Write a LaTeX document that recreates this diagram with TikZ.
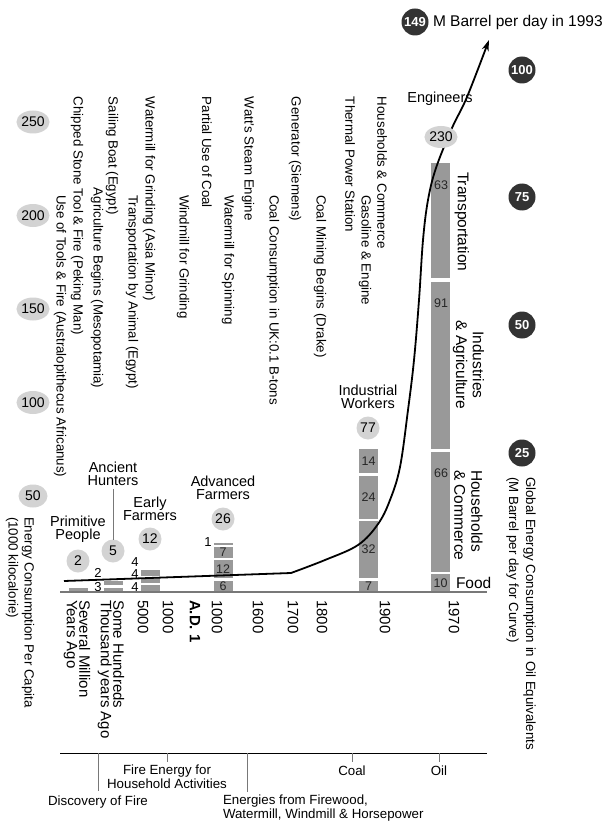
\documentclass[tikz,border=0pt]{standalone}
\usepackage{fontspec}
\setmainfont{Liberation Sans}
\usetikzlibrary{arrows.meta,shapes.geometric}
\newcommand{\fsz}[2]{\fontsize{#1}{#2}\selectfont}
\definecolor{barc}{RGB}{153,153,153}
\definecolor{lgc}{RGB}{211,211,211}
\definecolor{dkc}{RGB}{51,51,51}
\definecolor{axc}{RGB}{120,120,120}
\begin{document}
\begin{tikzpicture}[x=1pt,y=-1pt,
  every node/.style={inner sep=0pt,outer sep=0pt},
  evt/.style={rotate=-90,anchor=west,font=\fsz{13.3}{14}},
  yr/.style={rotate=-90,anchor=west,align=left,font=\fsz{15}{12.5}},
  grp/.style={align=center,font=\fsz{14.5}{13}},
  lcirc/.style={ellipse,fill=lgc,minimum width=23pt,minimum height=23pt,font=\fsz{14}{14}},
  dcirc/.style={circle,fill=dkc,minimum size=27pt,text=white,font=\bfseries\fsz{13}{13}},
  seg/.style={rectangle,fill=barc,minimum width=19pt,font=\fsz{12.5}{12.5},text=black!85},
  sml/.style={font=\fsz{13}{13}},
  bot/.style={font=\fsz{13.3}{13.5}},
  cat/.style={rotate=-90,font=\fsz{15.5}{17}},
  tick/.style={draw=axc,line width=1pt},
  curve/.style={line width=1.8pt,-{Stealth[length=11pt,width=7pt]}}
]
\useasboundingbox (0,0) rectangle (608,821);

% ---------- bars ----------
\node[seg,minimum height=4pt] (b1) at (78.5,590) {};
\node[seg,minimum height=4pt] (b2a) at (113.5,590) {};
\node[seg,minimum height=4pt] (b2b) at (113.5,583) {};
\node[seg,minimum height=7pt] (b3a) at (150.5,588.5) {};
\node[seg,minimum height=5pt] (b3b) at (150.5,580.5) {};
\node[seg,minimum height=6pt] (b3c) at (150.5,573) {};
\node[seg,minimum height=11pt] (b4a) at (223,586.5) {6};
\node[seg,minimum height=18pt] (b4b) at (223,569) {12};
\node[seg,minimum height=11pt] (b4c) at (223,552.5) {7};
\node[seg,minimum height=2.5pt] (b4d) at (223,544) {};
\node[seg,minimum height=11pt] (b5a) at (368.5,586.5) {7};
\node[seg,minimum height=57pt] (b5b) at (368.5,549.5) {32};
\node[seg,minimum height=43pt] (b5c) at (368.5,497.5) {24};
\node[seg,minimum height=24pt] (b5d) at (368.5,461) {14};
\node[seg,minimum height=18pt] (b6a) at (440.5,583) {10};
\node[seg,minimum height=120pt] (b6b) at (440.5,512) {};
\node[seg,minimum height=167pt] (b6c) at (440.5,365.5) {};
\node[seg,minimum height=115pt] (b6d) at (440.5,220.5) {};
\node[font=\fsz{12.5}{12.5},text=black!85] (n66) at (441,473) {66};
\node[font=\fsz{12.5}{12.5},text=black!85] (n91) at (441,303) {91};
\node[font=\fsz{12.5}{12.5},text=black!85] (n63) at (441,185) {63};

% small side numbers
\node[sml] (l3) at (98,587) {3};
\node[sml] (l2) at (98,573) {2};
\node[sml] (l4a) at (135,587) {4};
\node[sml] (l4b) at (135,574) {4};
\node[sml] (l4c) at (135,562) {4};
\node[sml] (l1) at (208,542) {1};

% baseline
\coordinate (bl0) at (60,592);
\coordinate (bl1) at (487,592);
\draw[draw=axc,line width=1.3pt] (bl0) -- (bl1);

% ---------- curve ----------
\draw[curve] (64,581) -- (291,573) -- plot[smooth,tension=0.6] coordinates {(291,573) (325,560) (358,545) (378,524) (390,500) (400,467) (408,410) (414,360) (419,300) (423,240) (428,200) (436,168) (452,128) (467,97) (489,40)};

% ---------- group labels ----------
\node[grp] (pp) at (78,529.5) {Primitive\\People};
\node[lcirc] (c2) at (78,561) {2};
\node[grp] (ah) at (113,473.5) {Ancient\\Hunters};
\node[lcirc] (c5) at (113,551) {5};
\draw[draw=axc,line width=1pt] ([yshift=-4pt]ah.south) -- (c5.north);
\node[grp] (ef) at (150,509) {Early\\Farmers};
\node[lcirc] (c12) at (150,539) {12};
\node[grp] (af) at (223,488) {Advanced\\Farmers};
\node[lcirc] (c26) at (223,519) {26};
\node[grp] (iw) at (368,396.5) {Industrial\\Workers};
\node[lcirc] (c77) at (368,428) {77};
\node[grp] (eng) at (440,99) {Engineers};
\node[lcirc,minimum width=32pt,minimum height=22pt] (c230) at (441,137) {230};

% ---------- left scale ----------
\foreach \v [count=\i from 0] in {250,200,150,100,50}
  \node[lcirc,minimum width=29pt] (s\v) at (33,122+93.5*\i) {\v};
\node[rotate=-90,anchor=west,align=left,font=\fsz{13.3}{16}] (el) at (20,517)
  {Energy Consumption Per Capita\\(1000 kilocalorie)};

% ---------- right scale ----------
\node[dcirc] (r149) at (415,22) {149};
\node[anchor=west,font=\fsz{15.5}{15.5}] (top) at (433,22) {M Barrel per day in 1993};
\node[dcirc] (r100) at (522,70) {100};
\node[dcirc] (r75) at (522,197) {75};
\node[dcirc] (r50) at (522,325) {50};
\node[dcirc] (r25) at (522,453) {25};
\node[rotate=-90,anchor=west,align=left,font=\fsz{13.3}{17}] (gl) at (521,477)
  {Global Energy Consumption in Oil Equivalents\\(M Barrel per day for Curve)};

% ---------- 1970 categories ----------
\node[cat,anchor=west] (tr) at (462,172) {Transportation};
\node[cat,align=center] (ia) at (468.5,365) {Industries\\\& Agriculture};
\node[cat,anchor=west,align=left] (hc) at (468.5,470) {Households\\\& Commerce};
\node[anchor=west,font=\fsz{15.5}{15.5}] (food) at (456,583) {Food};

% ---------- events ----------
\node[evt] (e1) at (77,97) {Chipped Stone Tool \& Fire (Peking Man)};
\node[evt] (e2) at (60,195) {Use of Tools \& Fire (Australopithecus Africanus)};
\node[evt] (e3) at (112,97) {Sailing Boat (Egypt)};
\node[evt] (e4) at (97,188) {Agriculture Begins (Mesopotamia)};
\node[evt] (e5) at (149,97) {Watermill for Grinding (Asia Minor)};
\node[evt] (e6) at (132,195) {Transportation by Animal (Egypt)};
\node[evt] (e7) at (183,195) {Windmill for Grinding};
\node[evt] (e8) at (207,97) {Partial Use of Coal};
\node[evt] (e9) at (228,195) {Watermill for Spinning};
\node[evt] (e10) at (248,97) {Watt's Steam Engine};
\node[evt] (e11) at (273,195) {Coal Consumption in UK:0.1 B-tons};
\node[evt] (e12) at (295,97) {Generator (Siemens)};
\node[evt] (e13) at (320,195) {Coal Mining Begins (Drake)};
\node[evt] (e14) at (350,97) {Thermal Power Station};
\node[evt] (e15) at (365,195) {Gasoline \& Engine};
\node[evt] (e16) at (382,97) {Households \& Commerce};

% ---------- years ----------
\node[yr] (y1) at (77,600) {Several Million\\Years Ago};
\node[yr] (y2) at (111,600) {Some Hundreds\\Thousand years Ago};
\node[yr] (y3) at (143,600) {5000};
\node[yr] (y4) at (168,600) {1000};
\node[yr,font=\bfseries\fsz{15}{12.5}] (y5) at (195,600) {A.D. 1};
\node[yr] (y6) at (217,600) {1000};
\node[yr] (y7) at (258,600) {1600};
\node[yr] (y8) at (293,600) {1700};
\node[yr] (y9) at (322,600) {1800};
\node[yr] (y10) at (385,600) {1900};
\node[yr] (y11) at (454,600) {1970};

% ---------- bottom energy axis ----------
\coordinate (ba0) at (60,753);
\coordinate (ba1) at (487,753);
\draw[line width=1pt] (ba0) -- (ba1);
\node[bot] (coal) at (352,771) {Coal};
\node[bot] (oil) at (439,771) {Oil};
\node[bot,align=center] (fire) at (167,776.5) {Fire Energy for\\Household Activities};
\node[bot] (disc) at (98,802) {Discovery of Fire};
\node[bot,anchor=west,align=left] (fw) at (223,808) {Energies from Firewood,\\Watermill, Windmill \& Horsepower};
\coordinate (t1) at (98,753);
\coordinate (t2) at (247,753);
\coordinate (t3) at (167,753);
\coordinate (t4) at (352,753);
\coordinate (t5) at (439,753);
\draw[tick] (t1) -- ([yshift=5pt]disc.north);
\draw[tick] (t2) -- (247,792);
\draw[tick] (t3) -- (167,762);
\draw[tick] (t4) -- (352,762);
\draw[tick] (t5) -- (439,762);
\end{tikzpicture}
\end{document}
